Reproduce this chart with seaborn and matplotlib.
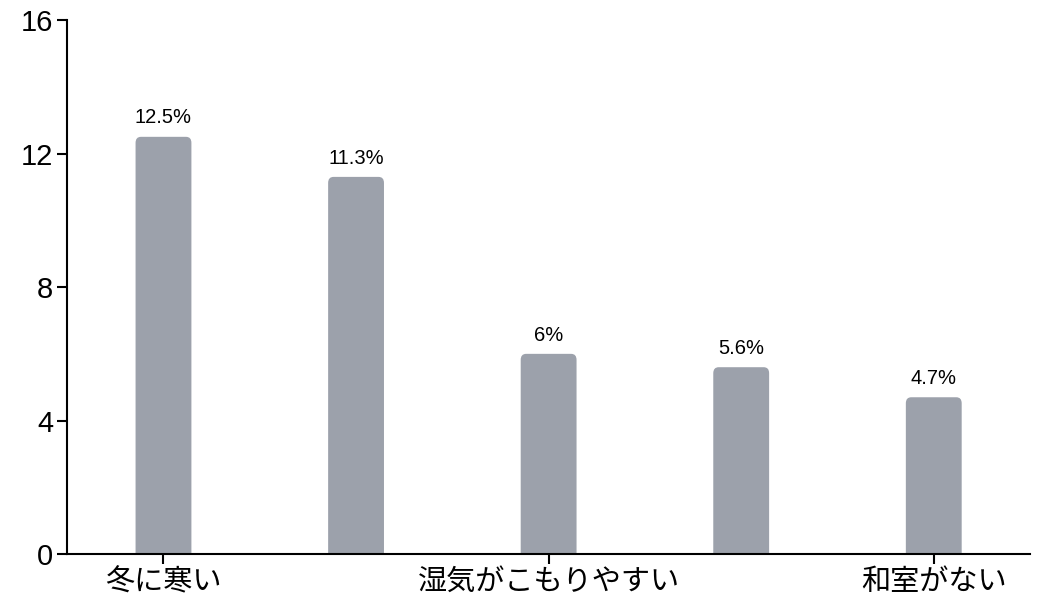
import pandas as pd
import matplotlib
matplotlib.use('Agg')
import matplotlib.pyplot as plt
from matplotlib.patches import FancyBboxPatch
import seaborn as sns

# Data
categories = ['冬に寒い', '項目2', '湿気がこもりやすい', '項目4', '和室がない']
values = [12.5, 11.3, 6, 5.6, 4.7]
value_labels = ['12.5%', '11.3%', '6%', '5.6%', '4.7%']
shown_ticks = [0, 2, 4]
y_ticks = [0, 4, 8, 12, 16]

df = pd.DataFrame({'category': categories, 'value': values})

sns.set_style('white')
plt.rcParams['font.family'] = ['Liberation Sans', 'Noto Sans CJK JP', 'DejaVu Sans']

fig = plt.figure(figsize=(10.5, 6.05), dpi=100)
ax = fig.add_axes([0.064, 0.084, 0.917, 0.883])

sns.barplot(x='category', y='value', data=df, color='#9ca1ab', width=0.29,
            saturation=1, ax=ax)

# swap plain bars for ones with rounded corners
r = 0.18
for p in list(ax.patches):
    x, w, h = p.get_x(), p.get_width(), p.get_height()
    p.set_visible(False)
    rounded = FancyBboxPatch((x, -1), w, h + 1,
                             boxstyle='round,pad=0,rounding_size=0.028',
                             mutation_aspect=r / 0.028,
                             facecolor='#9ca1ab', edgecolor='none')
    ax.add_patch(rounded)

for i, (v, lab) in enumerate(zip(values, value_labels)):
    ax.text(i, v + 0.28, lab, ha='center', va='bottom', fontsize=14.5, color='black')

ax.set_xlim(-0.5, 4.5)
ax.set_ylim(0, 16)
ax.set_yticks(y_ticks)
ax.set_yticklabels([str(t) for t in y_ticks], fontsize=21, color='black')
ax.set_xticks(shown_ticks)
ax.set_xticklabels([categories[i] for i in shown_ticks], fontsize=21, color='black')
ax.set_xlabel('')
ax.set_ylabel('')

sns.despine(ax=ax)
for side in ['left', 'bottom']:
    ax.spines[side].set_linewidth(1.5)
    ax.spines[side].set_color('black')
ax.tick_params(axis='both', direction='out', length=7, width=1.5, color='black',
               bottom=True, left=True, pad=3)
ax.tick_params(axis='x', pad=3)

fig.savefig('out.png', dpi=100)
plt.close()
